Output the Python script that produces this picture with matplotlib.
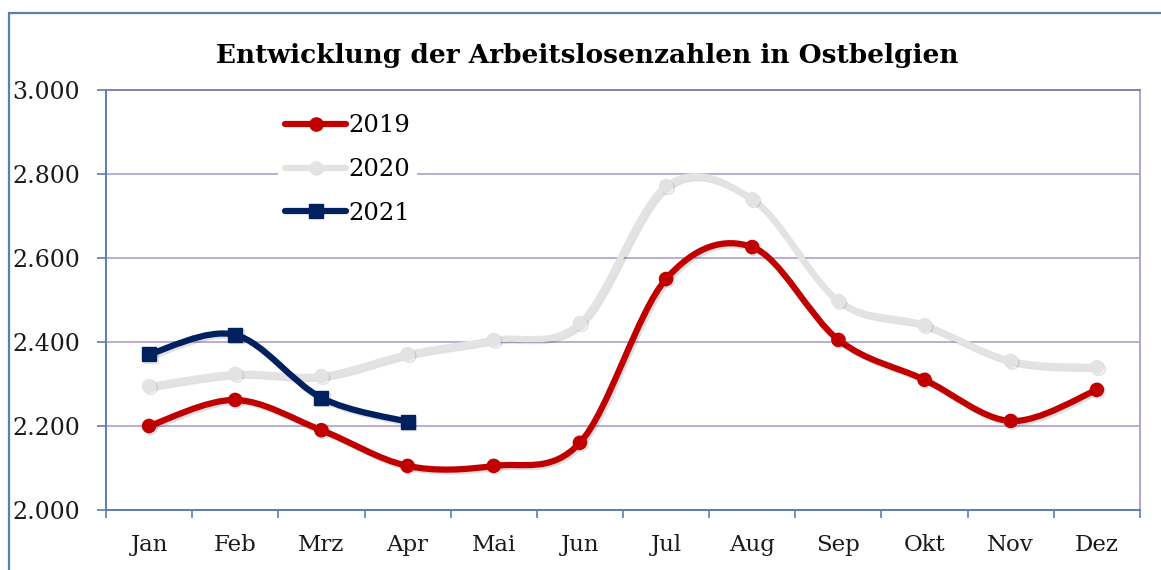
import numpy as np
import matplotlib
matplotlib.use('Agg')
import matplotlib.pyplot as plt
from matplotlib.path import Path
from matplotlib.patches import PathPatch, Rectangle
from matplotlib.lines import Line2D
import matplotlib.patheffects as pe

# Daten
months = ['Jan', 'Feb', 'Mrz', 'Apr', 'Mai', 'Jun', 'Jul', 'Aug', 'Sep', 'Okt', 'Nov', 'Dez']
values_2019 = [2200, 2262, 2190, 2105, 2105, 2160, 2550, 2626, 2405, 2310, 2212, 2286]
values_2020 = [2295, 2324, 2319, 2371, 2405, 2445, 2771, 2740, 2498, 2440, 2355, 2340]
values_2021 = [2371, 2417, 2267, 2210]
y_ticks = [2000, 2200, 2400, 2600, 2800, 3000]

plt.rcParams['font.family'] = ['DejaVu Serif']

BLUE = '#5B7FAE'
PURPLE = '#A896C8'


def smooth_path(xs, ys):
    # Excel-artige Glaettung (Catmull-Rom als Bezier)
    pts = np.column_stack([xs, ys]).astype(float)
    n = len(pts)
    verts = [pts[0]]
    codes = [Path.MOVETO]
    for i in range(n - 1):
        p0 = pts[i - 1] if i > 0 else pts[i]
        p1 = pts[i]
        p2 = pts[i + 1]
        p3 = pts[i + 2] if i + 2 < n else pts[i + 1]
        c1 = p1 + (p2 - p0) / 6.0
        c2 = p2 - (p3 - p1) / 6.0
        verts += [c1, c2, p2]
        codes += [Path.CURVE4] * 3
    return Path(verts, codes)


def fmt(v):
    return f'{v:,.0f}'.replace(',', '.')


fig = plt.figure(figsize=(11.61, 5.70), dpi=100)
ax = fig.add_axes([106 / 1161, 1 - 510 / 570, (1140 - 106) / 1161, 420 / 570])

# Rahmen um das Diagramm
fig.patches.append(Rectangle((9 / 1161, -0.1), 1.2, 1 - 13 / 570 + 0.1,
                             transform=fig.transFigure, fill=False,
                             edgecolor=BLUE, linewidth=1.6))

shadow = [pe.SimpleLineShadow(offset=(1.5, -1.5), shadow_color='black', alpha=0.12), pe.Normal()]

series = [
    (values_2019, '2019', '#C00000', 'o', 9.5),
    (values_2020, '2020', '#E3E3E3', 'o', 9.5),
    (values_2021, '2021', '#002060', 's', 10),
]
handles = []
for vals, label, color, marker, ms in series:
    x = np.arange(1, len(vals) + 1)
    patch = PathPatch(smooth_path(x, vals), fill=False, edgecolor=color,
                      linewidth=4.5, capstyle='round', joinstyle='round',
                      transform=ax.transData, zorder=3)
    patch.set_path_effects(shadow)
    ax.add_patch(patch)
    ax.plot(x, vals, linestyle='none', marker=marker, markersize=ms,
            color=color, zorder=4,
            path_effects=[pe.SimpleLineShadow(offset=(1.2, -1.2), shadow_color='black', alpha=0.12), pe.Normal()])
    handles.append(Line2D([], [], color=color, linewidth=4.5, marker=marker,
                          markersize=ms, solid_capstyle='round', label=label))

ax.set_xlim(0.5, 12.5)
ax.set_ylim(2000, 3000)

ax.set_yticks(y_ticks)
ax.set_yticklabels([fmt(v) for v in y_ticks])
ax.yaxis.grid(True, color=PURPLE, linewidth=1.1)
ax.set_axisbelow(True)

ax.set_xticks(np.arange(0.5, 13, 1))
ax.set_xticklabels([])
ax.set_xticks(np.arange(1, 13), minor=True)
ax.set_xticklabels(months, minor=True)

ax.tick_params(axis='y', length=6.5, width=1.2, color=BLUE, pad=12, labelsize=17, labelcolor='#1a1a1a')
ax.tick_params(axis='x', which='major', length=6, width=1.2, color=BLUE)
ax.tick_params(axis='x', which='minor', length=0, pad=17, labelsize=16.5, labelcolor='#1a1a1a')

ax.spines['left'].set_color(BLUE)
ax.spines['bottom'].set_color(BLUE)
ax.spines['left'].set_linewidth(1.4)
ax.spines['bottom'].set_linewidth(1.4)
ax.spines['right'].set_color(PURPLE)
ax.spines['right'].set_linewidth(1.2)
ax.spines['top'].set_color('#8E7AB5')
ax.spines['top'].set_linewidth(1.4)

leg = ax.legend(handles=handles, loc='upper left',
                bbox_to_anchor=(266 / 1161, 1 - 95 / 570), bbox_transform=fig.transFigure,
                frameon=True, fontsize=17.5, handlelength=2.5, handletextpad=0.08,
                labelspacing=0.85, borderpad=0.3, fancybox=False)
leg.get_frame().set_edgecolor('none')
leg.get_frame().set_facecolor('white')
leg.get_frame().set_alpha(1)

fig.text(587 / 1161, 1 - 55 / 570, 'Entwicklung der Arbeitslosenzahlen in Ostbelgien',
         ha='center', va='center', fontsize=19, fontweight='bold')

fig.savefig('out.png', dpi=100)
